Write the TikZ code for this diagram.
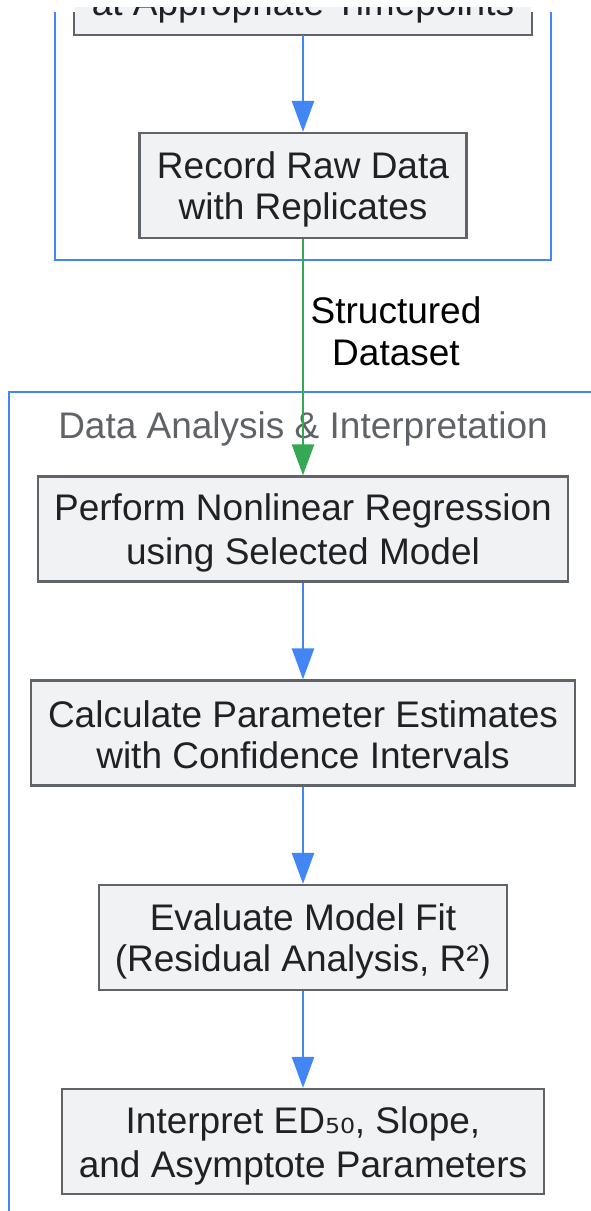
\documentclass[tikz,border=0pt]{standalone}
\usepackage{fontspec}
\setmainfont{Liberation Sans}
\newfontfamily\dejavu{DejaVu Sans}
\usetikzlibrary{arrows.meta}
\definecolor{flowblue}{HTML}{4285F4}
\definecolor{flowgreen}{HTML}{34A853}
\definecolor{boxfill}{HTML}{F1F2F4}
\definecolor{boxline}{HTML}{606368}
\definecolor{txt}{HTML}{202124}
\definecolor{titlegray}{HTML}{5F6368}
\newcommand\lstrut{\rule[-6pt]{0pt}{41pt}}
\newcommand\twolines[2]{\lstrut #1\\\lstrut #2}
\tikzset{
  box/.style={draw=boxline, fill=boxfill, line width=2.3pt, rectangle, inner sep=0pt,
    align=center, minimum height=105pt, text=txt, font=\fontsize{37}{41}\selectfont},
  cluster/.style={draw=flowblue, line width=2.6pt},
  clustertitle/.style={text=titlegray, font=\fontsize{37}{41}\selectfont, inner sep=0pt},
  flow/.style={draw=flowblue, line width=2.6pt, -{Triangle[length=31pt,width=22pt]}},
  dataflow/.style={draw=flowgreen, line width=2.6pt, -{Triangle[length=31pt,width=22pt]}},
  lbl/.style={text=black, font=\fontsize{37}{42}\selectfont, align=center, inner sep=0pt}
}
\begin{document}
\begin{tikzpicture}[x=1pt,y=-1pt]
\useasboundingbox (0,0) rectangle (591,1211);
\clip (0,0) rectangle (591,1211);
\fill[white] (0,0) rectangle (591,1211);
% clusters
\draw[cluster] (55,12) -- (55,260) -- (551,260) -- (551,12);
\draw[cluster] (620,392) -- (9,392) -- (9,1240);
\node[clustertitle] (t2) at (303,429) {Data Analysis \& Interpretation};
% nodes
\node[box, draw=none, minimum width=456pt] (n0) at (303,-18.5) {\twolines{}{at Appropriate Timepoints}};
\draw[boxline, line width=2.3pt] (n0.south west |- 0,12) -- (n0.south west) -- (n0.south east) -- (n0.south east |- 0,12);
\fill[white] (0,0) rectangle (591,7);
\node[box, minimum width=327pt] (n1) at (303,185.5) {\twolines{Record Raw Data}{with Replicates}};
\node[box, minimum width=530pt] (n2) at (303,529) {\twolines{Perform Nonlinear Regression}{using Selected Model}};
\node[box, minimum width=544pt] (n3) at (303,733) {\twolines{Calculate Parameter Estimates}{with Confidence Intervals}};
\node[box, minimum width=408pt] (n4) at (303,937.5) {\twolines{Evaluate Model Fit}{(Residual Analysis, R²)}};
\node[box, minimum width=482pt] (n5) at (303,1141.5) {\twolines{Interpret ED{\dejavu ₅₀}, Slope,}{and Asymptote Parameters}};
% connectors
\draw[flow] (n0) -- (n1);
\draw[dataflow] (n1) -- (n2);
\node[lbl] (l1) at (396,331) {Structured\\Dataset};
\draw[flow] (n2) -- (n3);
\draw[flow] (n3) -- (n4);
\draw[flow] (n4) -- (n5);
\end{tikzpicture}
\end{document}
